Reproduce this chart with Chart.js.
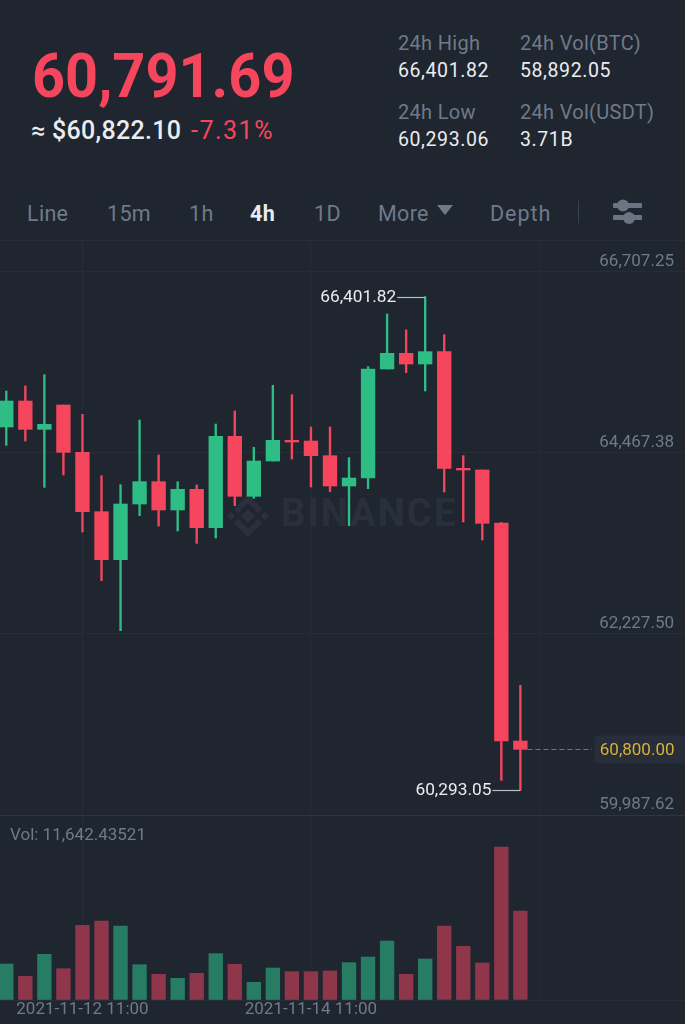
<!DOCTYPE html>
<html>
<head>
<meta charset="utf-8">
<script src="https://cdn.jsdelivr.net/npm/chart.js@4/dist/chart.umd.js"></script>
<style>
  html, body { margin: 0; padding: 0; background: #1f2630; }
  #page { position: relative; width: 685px; height: 1024px; overflow: hidden; font-family: Roboto, sans-serif; }
  #page div { position: absolute; white-space: nowrap; line-height: 30px; height: 30px; }
  canvas { position: absolute; left: 0; display: block; }
  .gray { color: #6f7a8a; font-size: 20px; letter-spacing: .3px; }
  .white { color: #eaecef; font-size: 19.5px; letter-spacing: .6px; }
  .tab { color: #6f7a8a; font-size: 21.5px; top: 199px; letter-spacing: .3px; }
  #price { left: 32px; top: 43px; height: 66px !important; line-height: 66px !important; color: #f6465d; font-size: 62px; font-weight: 700; transform: scaleX(.93); transform-origin: left; }
  #mark { left: 281px; top: 498px; color: #2a303b; font-size: 38px; font-weight: 700; letter-spacing: 2.2px; }
  #rule1 { left: 0; top: 240px; width: 685px; height: 1px !important; background: #272e39; }
  #sep { left: 578px; top: 201px; width: 1px; height: 22px !important; background: #3a424f; }
  svg { position: absolute; }
</style>
</head>
<body>
<div id="page">
  <div id="price">60,791.69</div>
  <div style="left:31px;top:116px;color:#eaecef;font-size:25px;font-weight:500;letter-spacing:.3px">≈ $60,822.10</div>
  <div style="left:191px;top:116px;color:#f6465d;font-size:25px;letter-spacing:1.5px">-7.31%</div>

  <div class="gray" style="left:398px;top:28px">24h High</div>
  <div class="white" style="left:398px;top:56px">66,401.82</div>
  <div class="gray" style="left:398px;top:97px">24h Low</div>
  <div class="white" style="left:398px;top:125px">60,293.06</div>
  <div class="gray" style="left:520px;top:28px">24h Vol(BTC)</div>
  <div class="white" style="left:520px;top:56px">58,892.05</div>
  <div class="gray" style="left:520px;top:97px">24h Vol(USDT)</div>
  <div class="white" style="left:520px;top:125px">3.71B</div>

  <div class="tab" style="left:27px">Line</div>
  <div class="tab" style="left:107px">15m</div>
  <div class="tab" style="left:189px">1h</div>
  <div class="tab" style="left:250px;color:#eaecef;font-weight:700">4h</div>
  <div class="tab" style="left:314px">1D</div>
  <div class="tab" style="left:378px">More</div>
  <svg style="left:437px;top:205px" width="16" height="11"><polygon points="0,0 16,0 8,10" fill="#6f7a8a"/></svg>
  <div class="tab" style="left:490px;letter-spacing:1px">Depth</div>
  <div id="sep"></div>
  <svg style="left:612px;top:197px" width="32" height="30" fill="#6b7483">
    <rect x="1" y="6" width="29" height="5" rx="1"/><circle cx="11" cy="8.5" r="6"/>
    <rect x="1" y="18" width="29" height="5" rx="1"/><circle cx="17" cy="21" r="6"/>
  </svg>
  <div id="rule1"></div>

  <svg style="left:224px;top:494px" width="48" height="44" fill="#2a303b">
    <g transform="translate(24,22) rotate(45)">
      <rect x="-5" y="-5" width="10" height="10"/>
      <path d="M-15,-15 H5 V-9 H-9 V5 H-15 Z"/>
      <path d="M15,15 H-5 V9 H9 V-5 H15 Z"/>
      <rect x="9" y="-15" width="6" height="6"/>
      <rect x="-15" y="9" width="6" height="6"/>
    </g>
  </svg>
  <div id="mark">BINANCE</div>

  <canvas id="candles" width="685" height="580" style="top:240px"></canvas>
  <canvas id="volume" width="685" height="209" style="top:815px"></canvas>
  <div style="left:10px;top:819px;color:#6f7a8a;font-size:17px">Vol: 11,642.43521</div>
</div>

<script>
// 4h candles
const opens = [64789.1, 65110.8, 64760.2, 65061.3, 64475.6, 63741.3, 63147.3, 63836.2, 64112.6, 63762.0,
  64017.7, 63543.4, 64673.6, 63931.1, 64368.3, 64624.1, 64615.8, 64434.3, 64058.9, 64157.9,
  65506.8, 65700.7, 65568.7, 65721.3, 64277.6, 64257.0, 63601.0, 60903.3];
const closes = [65110.8, 64760.2, 64822.1, 64475.6, 63741.3, 63147.3, 63836.2, 64112.6, 63762.0, 64017.7,
  63543.4, 64673.6, 63931.1, 64368.3, 64624.1, 64603.5, 64434.3, 64058.9, 64157.9, 65506.8,
  65700.7, 65568.7, 65721.3, 64277.6, 64257.0, 63597.0, 60903.3, 60800.0];
const highs = [65234.6, 65296.4, 65436.7, 65061.3, 64945.8, 64186.8, 64075.4, 64875.7, 64442.6, 64112.6,
  64071.3, 64826.2, 64987.1, 64537.4, 65304.7, 65189.2, 64789.1, 64789.1, 64409.6, 65535.7,
  66187.4, 65989.5, 66401.82, 65931.7, 64434.3, 64257.0, 63609.3, 61592.2];
const lows = [64562.2, 64615.8, 64042.5, 64195.1, 63489.7, 62887.4, 62268.7, 63691.8, 63564.0, 63502.1,
  63349.4, 63415.5, 63815.6, 63906.3, 64368.3, 64393.1, 64046.6, 63988.8, 63568.1, 64026.0,
  65506.8, 65461.5, 65234.6, 63984.7, 63613.5, 63390.7, 60416.6, 60293.05];
const volumes = [4710, 3096, 5972, 4098, 9766, 10334, 9680, 4622, 3358, 2834,
  3488, 6060, 4666, 2310, 4186, 3706, 3706, 3794, 4884, 5624,
  7717, 3358, 5362, 9680, 7019, 4840, 20012, 11642.43521];

const yTicks = [59987.62, 62227.50, 64467.38, 66707.25];
const xTicks = [4, 16, 28];
const xTickLabels = ['2021-11-12 11:00', '2021-11-14 11:00', ''];

const highMark = { index: 22, value: 66401.82, text: '66,401.82' };
const lowMark = { index: 27, value: 60293.05, text: '60,293.05' };
const lastPrice = 60800.00;

const GREEN = '#2ebd85';
const RED = '#f6465d';
const GREEN_DIM = '#277d64';
const RED_DIM = '#8f364a';
const GRID = '#262d38';
const FONT = 'Roboto';

const isUp = closes.map((c, i) => c >= opens[i]);
const candleColors = isUp.map(up => up ? GREEN : RED);
const volumeColors = isUp.map(up => up ? GREEN_DIM : RED_DIM);

// x axis keeps the candles 19px apart and lets the first one run off the left edge
const xMin = -0.331;
const xMax = 35.646;

function noPadding(scale) {
  scale.paddingTop = 0;
  scale.paddingBottom = 0;
  scale.paddingLeft = 0;
  scale.paddingRight = 0;
}

function xAxis(height, ticks) {
  return {
    type: 'linear',
    min: xMin,
    max: xMax,
    offset: false,
    border: { display: false },
    grid: { color: GRID, drawTicks: false, offset: false },
    afterBuildTicks: scale => { scale.ticks = xTicks.map(v => ({ value: v })); },
    afterFit: scale => { noPadding(scale); scale.height = height; },
    ticks: ticks
  };
}

// labels, leader lines and the last price line of the candle chart
const priceMarks = {
  id: 'priceMarks',
  afterDatasetsDraw(chart) {
    const { ctx, scales: { x, y } } = chart;
    ctx.save();
    ctx.font = '17.3px ' + FONT;
    ctx.textBaseline = 'middle';
    ctx.textAlign = 'right';

    [highMark, lowMark].forEach(m => {
      const px = x.getPixelForValue(m.index);
      const py = Math.round(y.getPixelForValue(m.value)) + 0.5;
      ctx.fillStyle = '#eaecef';
      ctx.fillText(m.text, px - 29, py);
      ctx.strokeStyle = '#b7bdc6';
      ctx.lineWidth = 1.2;
      ctx.beginPath();
      ctx.moveTo(px - 28, py);
      ctx.lineTo(px, py);
      ctx.stroke();
    });

    const py = Math.round(y.getPixelForValue(lastPrice)) + 0.5;
    const left = x.getPixelForValue(closes.length - 1) + 7;
    ctx.strokeStyle = '#8a7a35';
    ctx.lineWidth = 1.2;
    ctx.setLineDash([5, 3]);
    ctx.beginPath();
    ctx.moveTo(left, py);
    ctx.lineTo(592, py);
    ctx.stroke();
    ctx.setLineDash([]);

    ctx.fillStyle = '#272e39';
    ctx.beginPath();
    ctx.roundRect(595, py - 14, 95, 28, 3);
    ctx.fill();
    ctx.font = '17px ' + FONT;
    ctx.fillStyle = '#d9b136';
    ctx.fillText(lastPrice.toLocaleString('en-US', { minimumFractionDigits: 2 }), 674.5, py + 1);
    ctx.restore();
  }
};

new Chart(document.getElementById('candles'), {
  type: 'bar',
  data: {
    datasets: [
      {
        label: 'High/Low',
        data: highs.map((h, i) => ({ x: i, y: [lows[i], h] })),
        backgroundColor: candleColors,
        barThickness: 1.7,
        grouped: false
      },
      {
        label: 'Open/Close',
        data: opens.map((o, i) => ({ x: i, y: [o, closes[i]] })),
        backgroundColor: candleColors,
        barThickness: 13.7,
        grouped: false
      }
    ]
  },
  options: {
    responsive: false,
    animation: false,
    layout: { autoPadding: false, padding: { bottom: 5 } },
    plugins: { legend: { display: false }, tooltip: { enabled: false } },
    scales: {
      x: xAxis(0, { display: false }),
      y: {
        position: 'right',
        min: 59987.62,
        max: 67103.25,
        border: { display: false },
        grid: {
          drawTicks: false,
          color: ctx => ctx.tick && ctx.tick.value === yTicks[0] ? '#2f3641' : GRID
        },
        afterBuildTicks: scale => { scale.ticks = yTicks.map(v => ({ value: v })); },
        afterFit: scale => { noPadding(scale); scale.width = 0; },
        ticks: {
          mirror: true,
          padding: -11,
          labelOffset: -10,
          color: '#6f7a8a',
          font: { family: FONT, size: 17 },
          callback: v => v.toLocaleString('en-US', { minimumFractionDigits: 2, maximumFractionDigits: 2 })
        }
      }
    }
  },
  plugins: [priceMarks]
});

new Chart(document.getElementById('volume'), {
  type: 'bar',
  data: {
    datasets: [{
      label: 'Vol',
      data: volumes.map((v, i) => ({ x: i, y: v })),
      backgroundColor: volumeColors,
      barThickness: 13.7
    }]
  },
  options: {
    responsive: false,
    animation: false,
    layout: { autoPadding: false },
    plugins: { legend: { display: false }, tooltip: { enabled: false } },
    scales: {
      x: xAxis(24, {
        autoSkip: false,
        maxRotation: 0,
        padding: 0,
        color: '#6f7a8a',
        font: { family: FONT, size: 17 },
        callback: v => xTickLabels[xTicks.indexOf(v)]
      }),
      y: {
        display: true,
        min: 0,
        max: 24200,
        border: { display: false },
        grid: { color: GRID, drawTicks: false },
        afterBuildTicks: scale => { scale.ticks = [{ value: 0 }]; },
        afterFit: noPadding,
        ticks: { display: false }
      }
    }
  }
});
</script>
</body>
</html>
